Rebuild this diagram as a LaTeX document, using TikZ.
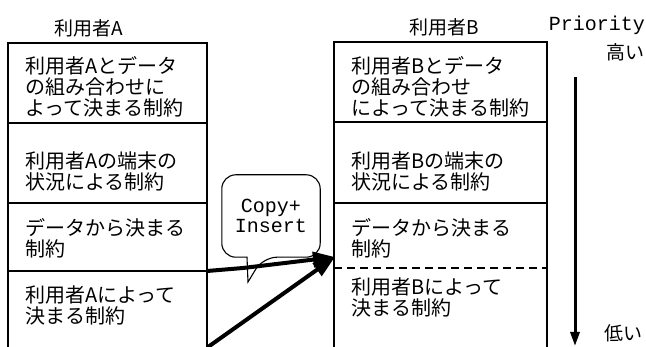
\documentclass[tikz,border=0pt]{standalone}
\usepackage{fontspec}
\newfontfamily\jp{Noto Sans CJK JP}
\newfontfamily\mono{Liberation Mono}
\usetikzlibrary{arrows.meta}
\pgfdeclarelayer{back}
\pgfsetlayers{back,main}
\begin{document}
\begin{tikzpicture}[x=1pt,y=-1pt,
  jt/.style={font=\jp\fontsize{20}{21}\selectfont, inner sep=0pt, anchor=west, align=left},
  ttl/.style={font=\jp\fontsize{19}{21}\selectfont, inner sep=0pt},
  mt/.style={font=\mono\fontsize{20}{20}\selectfont, inner sep=0pt, align=center},
  frame/.style={line width=1.3pt, black},
  bigarrow/.style={line width=4pt, -{Triangle[length=22pt,width=15pt]}},
  prioarrow/.style={line width=3pt, -{Triangle[length=14pt,width=9pt]}}]
\useasboundingbox (0,0) rectangle (646,347);
% titles
\node[ttl] (tA) at (89,28) {利用者A};
\node[ttl] (tB) at (444,27) {利用者B};
\node[mt] (prio) at (597,25) {Priority};
\node[ttl] (hi) at (625,52) {高い};
\node[ttl] (lo) at (623,333) {低い};
% left column
\draw[frame] (8,347) -- (8,43) -- (207,43) -- (207,347);
\draw[frame] (8,123) -- (207,123);
\draw[frame] (8,203) -- (207,203);
\draw[frame] (8,271) -- (207,271);
% right column
\draw[frame] (334,347) -- (334,42) -- (547,42) -- (547,347);
\draw[frame] (334,122) -- (547,122);
\draw[frame] (334,203) -- (547,203);
\draw[frame, dashed, dash pattern=on 8pt off 5pt] (334,268) -- (547,268);
% left texts
\node[jt] (l1) at (25,87) {利用者Aとデータ\\の組み合わせに\\よって決まる制約};
\node[jt] (l2) at (25,171) {利用者Aの端末の\\状況による制約};
\node[jt] (l3) at (25,238) {データから決まる\\制約};
\node[jt] (l4) at (25,305) {利用者Aによって\\決まる制約};
% right texts
\node[jt] (r1) at (351,87) {利用者Bとデータ\\の組み合わせ\\によって決まる制約};
\node[jt] (r2) at (351,171) {利用者Bの端末の\\状況による制約};
\node[jt] (r3) at (351,238) {データから決まる\\制約};
\node[jt] (r4) at (351,297) {利用者Bによって\\決まる制約};
% priority arrow
\coordinate (ptop) at (575,77);
\coordinate (pbot) at (575,346);
\draw[prioarrow] (ptop) -- (pbot);
% callout
\node[mt, minimum width=98pt, minimum height=82pt] (cb) at (271,216) {Copy+\\Insert};
\coordinate (ptip) at (248,282);
\begin{pgfonlayer}{back}
\draw[line width=1.1pt, fill=white, rounded corners=14pt]
  (cb.north) -- (cb.north east) -- (cb.south east) -- ([xshift=-8pt]cb.south)
  [sharp corners] -- (ptip) -- ([xshift=-24pt]cb.south)
  [rounded corners=14pt] -- (cb.south west) -- (cb.north west) -- cycle;
\end{pgfonlayer}
% copy arrows
\coordinate (a1s) at (207,271);
\coordinate (a1m) at (243,268);
\coordinate (a2s) at (208,347);
\coordinate (aend) at (335,257);
\draw[bigarrow] (a1s) -- (a1m) -- (aend);
\draw[bigarrow] (a2s) -- (aend);
\end{tikzpicture}
\end{document}
